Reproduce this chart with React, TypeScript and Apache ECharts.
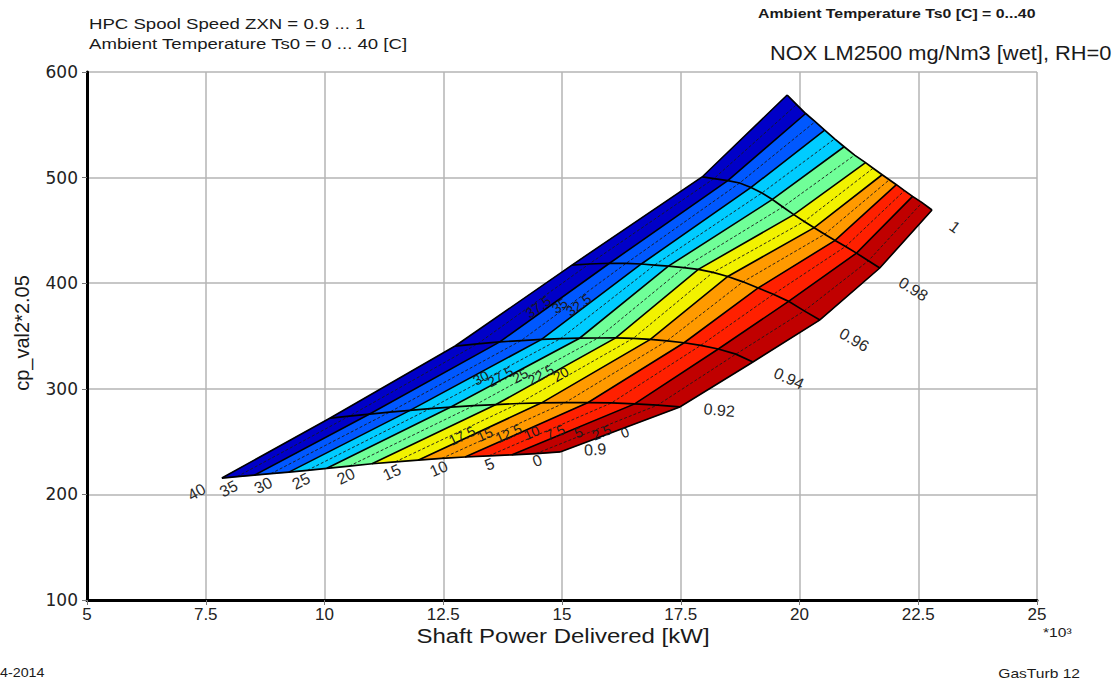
import React, { useEffect, useRef } from "react";
import * as echarts from "echarts";

// HPC spool speed lines (ZXN) and ambient temperature lines (Ts0, °C)
const speedLevels = [0.9, 0.92, 0.94, 0.96, 0.98, 1];
const tempLevels = [40, 37.5, 35, 32.5, 30, 27.5, 25, 22.5, 20, 17.5, 15, 12.5, 10, 7.5, 5, 2.5, 0];

// Shaft power delivered (*10^3 kW) along each ZXN line, ordered as tempLevels
const power090 = [7.84, 8.16, 8.52, 8.87, 9.25, 9.64, 10.05, 10.52, 11.0, 11.49, 11.97, 12.47, 12.96, 13.46, 13.95, 14.45, 14.96];
const power092 = [10.12, 10.52, 10.95, 11.37, 11.8, 12.22, 12.66, 13.14, 13.61, 14.09, 14.57, 15.07, 15.55, 16.04, 16.53, 17.01, 17.48];
const power094 = [12.75, 13.22, 13.69, 14.14, 14.57, 14.97, 15.37, 15.76, 16.13, 16.5, 16.86, 17.21, 17.57, 17.92, 18.29, 18.66, 19.02];
const power096 = [15.21, 15.57, 16.0, 16.35, 16.67, 16.95, 17.24, 17.56, 17.87, 18.18, 18.49, 18.81, 19.13, 19.45, 19.77, 20.1, 20.43];
const power098 = [17.95, 18.2, 18.49, 18.74, 18.98, 19.21, 19.43, 19.65, 19.88, 20.1, 20.31, 20.53, 20.75, 20.97, 21.2, 21.45, 21.69];
const power100 = [19.74, 19.94, 20.13, 20.33, 20.53, 20.74, 20.94, 21.16, 21.39, 21.55, 21.74, 21.89, 22.04, 22.21, 22.38, 22.58, 22.79];

// cp_val2*2.05 along each ZXN line, ordered as tempLevels
const cp090 = [215.5, 216.8, 218.2, 219.6, 221.1, 222.8, 224.7, 226.8, 229.0, 230.8, 232.4, 234.1, 235.4, 236.5, 237.5, 238.6, 240.2];
const cp092 = [272.3, 274.1, 276.1, 277.9, 279.6, 281.2, 282.7, 284.0, 285.1, 286.1, 286.7, 287.0, 287.0, 286.6, 285.7, 284.5, 282.8];
const cp094 = [340.5, 342.5, 344.4, 345.7, 346.8, 347.5, 347.9, 348.1, 348.2, 347.8, 346.8, 345.4, 343.6, 341.1, 337.7, 332.8, 325.4];
const cp096 = [417.2, 418.2, 418.9, 418.8, 418.2, 417.2, 416.1, 414.7, 413.1, 410.3, 406.4, 401.3, 395.5, 389.5, 382.8, 373.8, 365.2];
const cp098 = [500.6, 499.1, 497.1, 494.9, 490.7, 485.5, 479.3, 472.2, 464.9, 458.5, 452.6, 446.4, 440.5, 434.8, 428.5, 421.2, 414.4];
const cp100 = [578.2, 569.2, 560.7, 553.0, 545.0, 536.7, 529.2, 521.3, 514.2, 508.9, 502.7, 497.9, 493.3, 487.7, 482.2, 476.3, 469.3];

// strip colours between the 5 °C lines, 40..35 (blue) down to 5..0 (dark red)
const bandColors = ["#0000c8", "#0058ff", "#00ccff", "#70ff98", "#f2f200", "#ff9a00", "#ff2000", "#c00000"];

const bottomTempLabels = [40, 35, 30, 25, 20, 15, 10, 5, 0];
const speedLabels = ["0.9", "0.92", "0.94", "0.96", "0.98", "1"];
const contourLabels092 = [17.5, 15, 12.5, 10, 7.5, 5, 2.5, 0];
const contourLabels094 = [30, 27.5, 25, 22.5, 20];
const contourLabels096 = [37.5, 35, 32.5];

export default function App() {
  const ref = useRef<HTMLDivElement>(null);

  useEffect(() => {
    document.body.style.margin = "0";
    const chart = echarts.init(ref.current!, null, { renderer: "svg" });

    const powers = [power090, power092, power094, power096, power098, power100];
    const cps = [cp090, cp092, cp094, cp096, cp098, cp100];
    const nZ = speedLevels.length;
    const nT = tempLevels.length;
    const node = (j: number, i: number) => [powers[j][i], cps[j][i]];

    const font = "'Liberation Sans', Arial, sans-serif";

    const bandData = bandColors.map((_, s) => node(0, 2 * s));

    const renderBand = (params: any, api: any) => {
      const s = params.dataIndex;
      const a = 2 * s;
      const b = 2 * s + 2;
      const pts: number[][] = [];
      for (let j = 0; j < nZ; j++) pts.push(api.coord(node(j, a)));
      for (let i = a + 1; i < b; i++) pts.push(api.coord(node(nZ - 1, i)));
      for (let j = nZ - 1; j >= 0; j--) pts.push(api.coord(node(j, b)));
      for (let i = b - 1; i > a; i--) pts.push(api.coord(node(0, i)));
      return {
        type: "polygon",
        shape: { points: pts },
        style: { fill: bandColors[s], stroke: bandColors[s], lineWidth: 0.6 },
      };
    };

    const renderLines = (params: any, api: any) => {
      const children: any[] = [];
      const C = (j: number, i: number) => api.coord(node(j, i));
      // temperature lines: solid every 5 °C, dashed in between
      for (let i = 0; i < nT; i++) {
        const pts: number[][] = [];
        for (let j = 0; j < nZ; j++) pts.push(C(j, i));
        const solid = tempLevels[i] % 5 === 0;
        children.push({
          type: "polyline",
          shape: { points: pts },
          style: solid
            ? { stroke: "#000", lineWidth: 1.6, fill: "none" }
            : { stroke: "#1a1a1a", lineWidth: 0.9, lineDash: [3, 2], fill: "none" },
        });
      }
      // speed lines
      for (let j = 0; j < nZ; j++) {
        const pts: number[][] = [];
        for (let i = 0; i < nT; i++) pts.push(C(j, i));
        children.push({
          type: "polyline",
          shape: { points: pts },
          style: { stroke: "#000", lineWidth: 1.7, fill: "none" },
        });
      }
      // temperature labels at ZXN = 0.9
      bottomTempLabels.forEach((t) => {
        const i = tempLevels.indexOf(t);
        const p = C(0, i);
        const q = C(1, i);
        const L = Math.hypot(q[0] - p[0], q[1] - p[1]);
        const d = [(q[0] - p[0]) / L, (q[1] - p[1]) / L];
        children.push({
          type: "text",
          x: p[0] - d[0] * 20,
          y: p[1] - d[1] * 20,
          rotation: Math.atan2(-d[1], d[0]),
          style: { text: String(t), fill: "#2a2a2a", fontSize: 16, fontFamily: font, align: "right", verticalAlign: "middle" },
        });
      });
      // speed labels at Ts0 = 0 end
      speedLabels.forEach((s, j) => {
        const p = C(j, nT - 1);
        const q = C(j, nT - 2);
        const L = Math.hypot(p[0] - q[0], p[1] - q[1]);
        const d = [(p[0] - q[0]) / L, (p[1] - q[1]) / L];
        children.push({
          type: "text",
          x: p[0] + d[0] * 24,
          y: p[1] + d[1] * 24,
          rotation: Math.atan2(-d[1], d[0]),
          style: { text: s, fill: "#2a2a2a", fontSize: 16, fontFamily: font, align: "left", verticalAlign: "middle" },
        });
      });
      // inline line labels
      const rows = [contourLabels092, contourLabels094, contourLabels096];
      rows.forEach((row, j) => {
        row.forEach((t) => {
          const i = tempLevels.indexOf(t);
          const p = C(j, i);
          const q = C(j + 1, i);
          const L = Math.hypot(q[0] - p[0], q[1] - p[1]);
          const d = [(q[0] - p[0]) / L, (q[1] - p[1]) / L];
          children.push({
            type: "text",
            x: (p[0] + q[0]) / 2 + 5,
            y: (p[1] + q[1]) / 2 + 3,
            rotation: Math.atan2(-d[1], d[0]),
            style: { text: String(t), fill: "#1a1a1a", fontSize: 14, fontFamily: font, align: "center", verticalAlign: "middle" },
          });
        });
      });
      return { type: "group", children };
    };

    const option: any = {
      animation: false,
      backgroundColor: "#ffffff",
      grid: { left: 87, top: 72, width: 950, height: 528, containLabel: false },
      xAxis: {
        type: "value",
        min: 5,
        max: 25,
        interval: 2.5,
        axisLine: { show: true, onZero: false, lineStyle: { color: "#000", width: 3 } },
        axisTick: { show: true, length: 5, lineStyle: { color: "#777", width: 1 } },
        axisLabel: { color: "#222", fontSize: 17, fontFamily: font, margin: 6 },
        splitLine: { show: true, lineStyle: { color: "#b4b4b4", width: 1.5 } },
      },
      yAxis: {
        type: "value",
        min: 100,
        max: 600,
        interval: 100,
        axisLine: { show: true, onZero: false, lineStyle: { color: "#000", width: 3 } },
        axisTick: { show: true, length: 5, lineStyle: { color: "#777", width: 1 } },
        axisLabel: { color: "#222", fontSize: 17, fontFamily: "'DejaVu Sans', sans-serif", margin: 9 },
        splitLine: { show: true, lineStyle: { color: "#b4b4b4", width: 1.5 } },
      },
      graphic: [
        { type: "text", x: 89, y: 24, scaleX: 1.2, style: { text: "HPC Spool Speed ZXN = 0.9 ... 1", fill: "#1a1a1a", fontSize: 15.5, fontFamily: font, verticalAlign: "middle" } },
        { type: "text", x: 89, y: 44, scaleX: 1.2, style: { text: "Ambient Temperature Ts0 = 0 ... 40 [C]", fill: "#1a1a1a", fontSize: 15.5, fontFamily: font, verticalAlign: "middle" } },
        { type: "text", x: 758, y: 14, scaleX: 1.22, style: { text: "Ambient Temperature Ts0 [C] = 0...40", fill: "#1a1a1a", fontSize: 13, fontWeight: "bold", fontFamily: font, verticalAlign: "middle" } },
        { type: "text", x: 770, y: 53, scaleX: 1.12, style: { text: "NOX LM2500 mg/Nm3 [wet], RH=0", fill: "#1a1a1a", fontSize: 19.5, fontFamily: font, verticalAlign: "middle" } },
        { type: "text", x: 22, y: 333, rotation: Math.PI / 2, style: { text: "cp_val2*2.05", fill: "#1a1a1a", fontSize: 20, fontFamily: font, align: "center", verticalAlign: "middle" } },
        { type: "text", x: 563, y: 636, scaleX: 1.23, style: { text: "Shaft Power Delivered [kW]", fill: "#1a1a1a", fontSize: 19.5, fontFamily: font, align: "center", verticalAlign: "middle" } },
        { type: "text", x: 1043, y: 632, scaleX: 1.2, style: { text: "*10³", fill: "#1a1a1a", fontSize: 13, fontFamily: font, verticalAlign: "middle" } },
        { type: "text", x: 0, y: 673, scaleX: 1.1, style: { text: "4-2014", fill: "#1a1a1a", fontSize: 13, fontFamily: font, verticalAlign: "middle" } },
        { type: "text", x: 1080, y: 673, scaleX: 1.2, style: { text: "GasTurb 12", fill: "#1a1a1a", fontSize: 13, fontFamily: font, align: "right", verticalAlign: "middle" } },
      ],
      series: [
        {
          type: "custom",
          name: "bands",
          coordinateSystem: "cartesian2d",
          silent: true,
          z: 2,
          data: bandData,
          renderItem: renderBand,
        },
        {
          type: "custom",
          name: "lines",
          coordinateSystem: "cartesian2d",
          silent: true,
          z: 3,
          data: [node(0, 0)],
          renderItem: renderLines,
        },
      ],
    };

    chart.setOption(option);
    return () => chart.dispose();
  }, []);

  return <div ref={ref} style={{ width: 1120, height: 682 }} />;
}
